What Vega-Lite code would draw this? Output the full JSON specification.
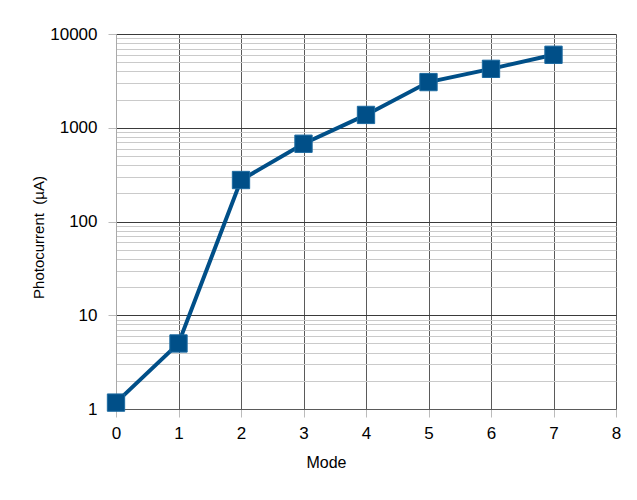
{
  "$schema": "https://vega.github.io/schema/vega-lite/v6.json",
  "width": 500,
  "height": 375,
  "autosize": "none",
  "padding": {"left": 116, "top": 34, "right": 21, "bottom": 91},
  "background": "white",
  "config": {"view": {"stroke": null}, "font": "Liberation Sans"},
  "data": {"values": [
    {"mode": 0, "current": 1.17},
    {"mode": 1, "current": 5.0},
    {"mode": 2, "current": 277},
    {"mode": 3, "current": 675},
    {"mode": 4, "current": 1370},
    {"mode": 5, "current": 3070},
    {"mode": 6, "current": 4250},
    {"mode": 7, "current": 6000}
  ]},
  "encoding": {
    "x": {"field": "mode", "type": "quantitative",
      "scale": {"domain": [0, 8], "nice": false, "zero": false},
      "axis": {"title": "Mode", "values": [0,1,2,3,4,5,6,7,8], "format": "d",
        "grid": true, "gridColor": "#5a5a5a", "gridWidth": 1,
        "domain": true, "domainColor": "#5a5a5a",
        "tickColor": "#bbbbbb", "tickSize": 8, "labelPadding": 8, "labelFlush": false,
        "labelFontSize": 17, "labelColor": "#000", "labelFont": "Liberation Sans",
        "titleFontSize": 16, "titleFontWeight": "normal", "titleColor": "#000",
        "titleX": 210, "titleY": 45}},
    "y": {"field": "current", "type": "quantitative",
      "scale": {"type": "log", "domain": [1, 10000], "nice": false},
      "axis": {"title": "Photocurrent\u00a0\u00a0(µA)",
        "values": [1,2,3,4,5,6,7,8,9,10,20,30,40,50,60,70,80,90,100,200,300,400,500,600,700,800,900,1000,2000,3000,4000,5000,6000,7000,8000,9000,10000],
        "labelExpr": "indexof(['1','10','100','1000','10000'], format(datum.value,'d')) >= 0 ? format(datum.value,'d') : ''",
        "grid": true,
        "gridColor": {"condition": {"test": "indexof([1,10,100,1000,10000], datum.value) >= 0", "value": "#3a3a3a"}, "value": "#cacaca"},
        "gridWidth": 1,
        "domain": true, "domainColor": "#aaaaaa",
        "tickColor": "#bbbbbb",
        "tickOpacity": {"condition": {"test": "indexof([1,10,100,1000,10000], datum.value) >= 0", "value": 1}, "value": 0},
        "tickSize": 8, "labelPadding": 11, "labelFlush": false,
        "labelFontSize": 17, "labelColor": "#000", "labelFont": "Liberation Sans",
        "titleFontSize": 15, "titleFontWeight": "normal", "titleColor": "#000",
        "titleX": -70, "titleY": 203}}
  },
  "layer": [
    {"mark": {"type": "line", "color": "#004f88", "strokeWidth": 4}},
    {"mark": {"type": "point", "shape": "square", "filled": true, "size": 300, "color": "#004f88", "stroke": "#1c6aa0", "strokeWidth": 1, "opacity": 1}}
  ]
}
